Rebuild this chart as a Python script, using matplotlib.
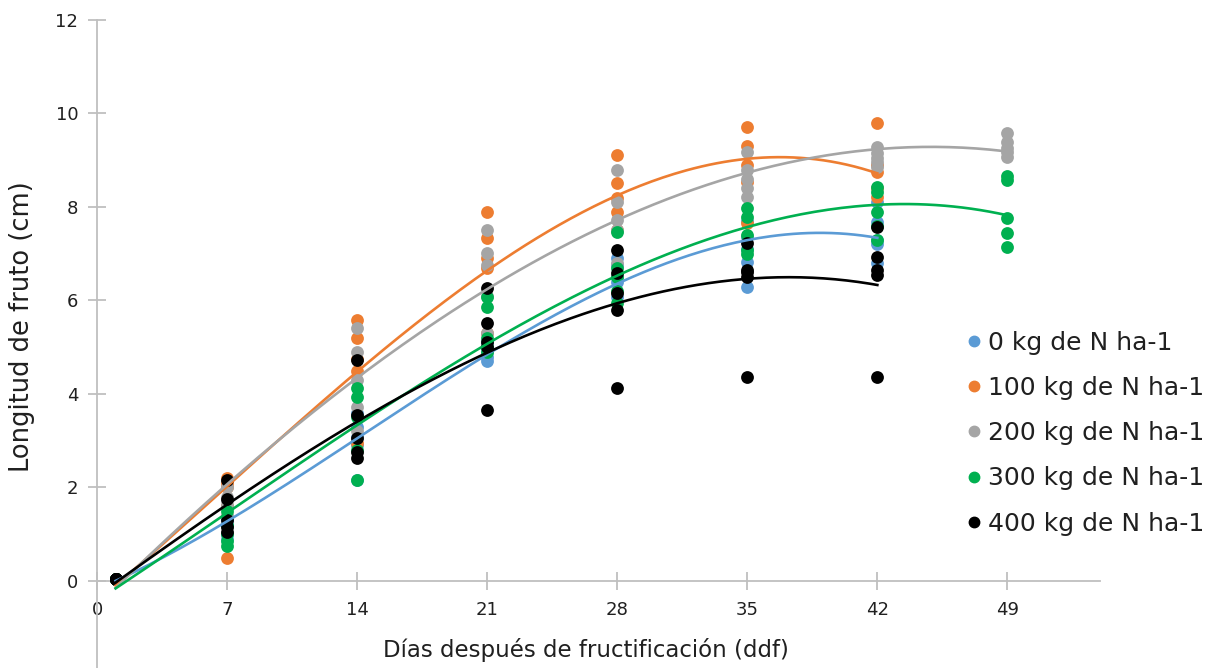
import numpy as np
import matplotlib.pyplot as plt
from matplotlib.lines import Line2D

# Days after fruit set
dias = [1, 7, 14, 21, 28, 35, 42, 49]

# Fruit length (cm), replicates per sampling day, one list per N rate
long_0 = [[0.05, 0.05, 0.05, 0.05, 0.05],
          [1.0, 1.3, 0.9, 1.6, 1.2],
          [2.16, 3.08, 3.3, 3.6, 2.9],
          [4.79, 4.9, 5.0, 4.7, 5.1],
          [6.76, 6.08, 6.4, 6.5, 6.9],
          [7.36, 6.82, 6.29, 7.7, 7.1],
          [8.11, 7.68, 7.2, 6.8, 7.3]]
long_100 = [[0.05, 0.05, 0.05, 0.05, 0.05],
            [0.5, 2.1, 2.2, 2.0, 1.6],
            [5.58, 4.75, 2.95, 5.2, 4.5],
            [7.89, 7.34, 6.9, 5.3, 6.7],
            [9.11, 8.51, 7.89, 7.5, 8.2],
            [9.71, 8.53, 7.66, 9.3, 8.9],
            [9.8, 8.75, 8.21, 8.4, 8.9]]
long_200 = [[0.05, 0.05, 0.05, 0.05, 0.05],
            [1.8, 1.6, 2.0, 1.4, 1.7],
            [5.41, 4.9, 3.72, 3.2, 4.3],
            [7.51, 7.02, 6.76, 5.3, 6.1],
            [8.79, 8.11, 7.72, 6.8, 7.5],
            [9.18, 8.79, 8.41, 8.21, 8.6],
            [9.28, 9.15, 8.96, 8.86, 9.05],
            [9.58, 9.39, 9.18, 9.07, 9.25]]
long_300 = [[0.05, 0.05, 0.05, 0.05, 0.05],
            [0.75, 0.85, 1.5, 1.2, 1.0],
            [4.13, 3.94, 2.8, 2.16, 3.5],
            [6.08, 5.86, 5.0, 4.9, 5.2],
            [7.47, 5.95, 6.5, 6.2, 6.7],
            [7.98, 7.79, 7.08, 7.0, 7.4],
            [8.43, 8.32, 7.29, 7.6, 7.9],
            [8.65, 8.58, 7.76, 7.45, 7.15]]
long_400 = [[0.05, 0.05, 0.05, 0.05, 0.05],
            [2.16, 1.75, 1.3, 1.05, 1.15],
            [4.73, 3.55, 3.05, 2.75, 2.63],
            [6.27, 5.52, 5.11, 5.0, 3.66],
            [7.08, 6.59, 6.16, 5.8, 4.13],
            [7.23, 6.65, 6.5, 6.6, 4.36],
            [7.57, 6.93, 6.65, 6.55, 4.36]]

etiquetas = ['0 kg de N ha-1', '100 kg de N ha-1', '200 kg de N ha-1',
             '300 kg de N ha-1', '400 kg de N ha-1']
colores = ['#5B9BD5', '#ED7D31', '#A5A5A5', '#00B050', '#000000']
series = [long_0, long_100, long_200, long_300, long_400]

plt.rcParams['font.family'] = 'DejaVu Sans'
gris = '#BFBFBF'
texto = '#202020'

fig = plt.figure(figsize=(12.22, 6.68), dpi=100)
ax = fig.add_axes([0.0794, -0.0097, 0.821, 0.98])


def aplanar(valores):
    xs, ys = [], []
    for d, reps in zip(dias, valores):
        xs += [d] * len(reps)
        ys += reps
    return xs, ys


# Scatter points first, then cubic trend lines on top
for valores, color in zip(series, colores):
    xs, ys = aplanar(valores)
    ax.scatter(xs, ys, s=85, color=color, zorder=3, linewidths=0)

for valores, color in zip(series, colores):
    xs, ys = aplanar(valores)
    coef = np.polyfit(xs, ys, 3)
    xf = np.linspace(1, max(xs), 200)
    ax.plot(xf, np.polyval(coef, xf), color=color, lw=1.9, zorder=4)

ax.set_xlim(0, 54)
ax.set_ylim(-2, 12)
ax.set_xticks(range(0, 50, 7))
ax.set_yticks(range(-2, 13, 2))

for s in ['top', 'right']:
    ax.spines[s].set_visible(False)
ax.spines['bottom'].set_position(('data', 0))
ax.spines['left'].set_position(('data', 0))
for s in ['bottom', 'left']:
    ax.spines[s].set_color(gris)
    ax.spines[s].set_linewidth(1.3)
ax.tick_params(direction='inout', length=13, width=1.3, color=gris,
               labelsize=13, labelcolor=texto)
ax.tick_params(axis='y', pad=7)
ax.tick_params(axis='x', pad=8)

ax.set_xlabel('Días después de fructificación (ddf)', fontsize=16.5, color=texto)
ax.set_ylabel('Longitud de fruto (cm)', fontsize=18.5, color=texto)
ax.xaxis.set_label_coords(0.4875, 0.056)
ax.yaxis.set_label_coords(-0.062, 0.531)

manejadores = [Line2D([], [], marker='o', ls='none', color=c, markersize=7.5)
               for c in colores]
fig.legend(manejadores, etiquetas, loc='upper left', frameon=False,
           bbox_to_anchor=(0.784, 0.52), fontsize=18, handlelength=0.5,
           handletextpad=0.3, labelspacing=0.85, labelcolor=texto,
           borderaxespad=0)

fig.savefig('out.png', dpi=100)
